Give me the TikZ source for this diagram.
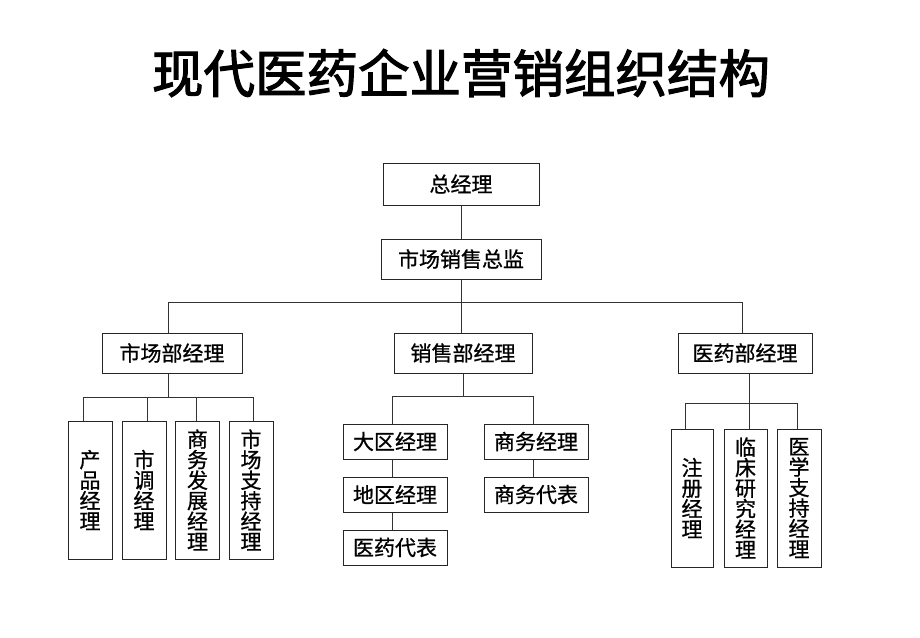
\documentclass[tikz,border=0pt]{standalone}
\usepackage{fontspec}
\setmainfont{Noto Sans CJK SC}
\newfontfamily\lblfont[FakeBold=0.8]{Noto Sans CJK SC}
\newfontfamily\ttlfont[FakeBold=2.2]{Noto Sans CJK SC}
\begin{document}
\begin{tikzpicture}[x=1pt,y=-1pt,
  box/.style={draw=black!85, line width=1pt, inner sep=0pt, align=center, font=\lblfont\fontsize{21}{20.5}\selectfont},
  conn/.style={draw=black!80, line width=0.8pt}]
\useasboundingbox (0,0) rectangle (920,637);
\node[font=\ttlfont\fontsize{51.5}{51.5}\selectfont] (title) at (461,73) {现代医药企业营销组织结构};
% top
\node[box, minimum width=156pt, minimum height=42pt] (gm) at (461,184) {总经理};
\node[box, minimum width=160pt, minimum height=40pt] (dir) at (461,259) {市场销售总监};
% departments
\node[box, minimum width=140pt, minimum height=40pt] (mkt) at (172,353) {市场部经理};
\node[box, minimum width=138pt, minimum height=40pt] (sales) at (463,353) {销售部经理};
\node[box, minimum width=134pt, minimum height=40pt] (med) at (745,353) {医药部经理};
% marketing children
\node[box, minimum width=44pt, minimum height=138pt] (c1) at (90,490) {产\\品\\经\\理};
\node[box, minimum width=44pt, minimum height=138pt] (c2) at (144,490) {市\\调\\经\\理};
\node[box, minimum width=44pt, minimum height=138pt] (c3) at (197.5,490) {商\\务\\发\\展\\经\\理};
\node[box, minimum width=44pt, minimum height=138pt] (c4) at (251,490) {市\\场\\支\\持\\经\\理};
% sales children
\node[box, minimum width=104pt, minimum height=35pt] (s1) at (395,441.5) {大区经理};
\node[box, minimum width=104pt, minimum height=35pt] (s2) at (395,494.5) {地区经理};
\node[box, minimum width=104pt, minimum height=35pt] (s3) at (395,547.5) {医药代表};
\node[box, minimum width=104pt, minimum height=35pt] (s4) at (536,441.5) {商务经理};
\node[box, minimum width=104pt, minimum height=35pt] (s5) at (536,494.5) {商务代表};
% medical children
\node[box, minimum width=42pt, minimum height=138pt] (m1) at (692,498) {注\\册\\经\\理};
\node[box, minimum width=43pt, minimum height=138pt] (m2) at (745.5,498) {临\\床\\研\\究\\经\\理};
\node[box, minimum width=44pt, minimum height=138pt] (m3) at (799,498) {医\\学\\支\\持\\经\\理};
% connectors top
\draw[conn] (gm) -- (dir);
\coordinate (busL) at (168,302);
\coordinate (busM) at (461,302);
\coordinate (busR) at (742,302);
\draw[conn] (dir.south) -- (busM);
\draw[conn] (busL) -- (busR);
\draw[conn] (busL) -- (busL |- mkt.north);
\draw[conn] (busM) -- (sales.north -| busM);
\draw[conn] (busR) -- (busR |- med.north);
% marketing bus
\coordinate (lt) at (168,397);
\coordinate (l1) at (83,397);
\coordinate (l4) at (253,397);
\draw[conn] (mkt.south -| lt) -- (lt);
\draw[conn] (l1) -- (l4);
\draw[conn] (l1) -- (l1 |- c1.north);
\draw[conn] (147,397) -- (147,421);
\draw[conn] (196,397) -- (196,421);
\draw[conn] (l4) -- (l4 |- c4.north);
% sales bus
\coordinate (mt) at (463,396);
\coordinate (ma) at (392,396);
\coordinate (mb) at (533,396);
\draw[conn] (sales.south -| mt) -- (mt);
\draw[conn] (ma) -- (mb);
\draw[conn] (ma) -- (ma |- s1.north);
\draw[conn] (mb) -- (mb |- s4.north);
\draw[conn] (ma |- s1.south) -- (ma |- s2.north);
\draw[conn] (ma |- s2.south) -- (ma |- s3.north);
\draw[conn] (mb |- s4.south) -- (mb |- s5.north);
% medical bus
\coordinate (rt) at (749,403);
\coordinate (r1) at (685,403);
\coordinate (r3) at (797,403);
\draw[conn] (med.south -| rt) -- (rt);
\draw[conn] (r1) -- (r3);
\draw[conn] (r1) -- (r1 |- m1.north);
\draw[conn] (rt) -- (rt |- m2.north);
\draw[conn] (r3) -- (r3 |- m3.north);
\end{tikzpicture}
\end{document}
